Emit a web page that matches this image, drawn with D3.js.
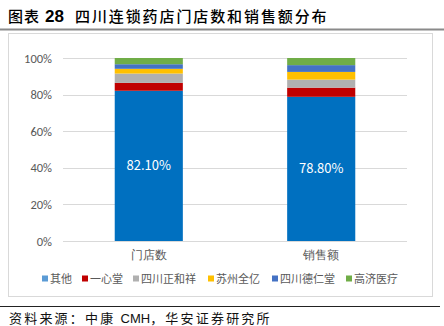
<!DOCTYPE html>
<html>
<head>
<meta charset="utf-8">
<script src="https://cdn.jsdelivr.net/npm/d3@7"></script>
<style>
  html, body { margin: 0; padding: 0; background: #fff; }
  svg { display: block; font-family: "Noto Sans CJK SC", "Noto Sans", sans-serif; }
</style>
</head>
<body>
<svg id="chart" width="444" height="326"></svg>
<script>
// Store count vs. sales share of Sichuan pharmacy chains (percent)
const categories = ["门店数", "销售额"];
const seriesNames = ["其他", "一心堂", "四川正和祥", "苏州全亿", "四川德仁堂", "高济医疗"];
const seriesColors = ["#0070C0", "#C00000", "#B0B0B0", "#FFC000", "#4472C4", "#70AD47"];
const legendColors = ["#5B9BD5", "#C00000", "#B0B0B0", "#FFC000", "#4472C4", "#70AD47"];
const otherValues = [82.1, 78.8];
const yixintangValues = [4.3, 5.0];
const zhenghexiangValues = [5.1, 4.4];
const quanyiValues = [2.6, 4.2];
const derentangValues = [2.5, 3.7];
const gaojiValues = [3.4, 3.9];
const yTicks = [0, 20, 40, 60, 80, 100];

const seriesValues = [otherValues, yixintangValues, zhenghexiangValues, quanyiValues, derentangValues, gaojiValues];

const svg = d3.select("#chart");

// Title and rules
const title = svg.append("text").attr("y", 22).attr("font-size", 15).attr("fill", "#000");
title.append("tspan").attr("x", 8).attr("letter-spacing", 1).attr("font-weight", 500).text("图表");
title.append("tspan").attr("x", 45).attr("font-weight", "bold")
  .attr("font-family", "'Liberation Sans', Arial, sans-serif").attr("font-size", 17).text("28");
title.append("tspan").attr("x", 75).attr("letter-spacing", 1.9).attr("font-weight", 500)
  .text("四川连锁药店门店数和销售额分布");
svg.append("line")
  .attr("x1", 0).attr("x2", 444).attr("y1", 29.5).attr("y2", 29.5)
  .attr("stroke", "#8a8a8a").attr("stroke-width", 2);

// Chart frame
svg.append("rect")
  .attr("x", 8.5).attr("y", 33.5).attr("width", 424).attr("height", 263)
  .attr("fill", "#fff").attr("stroke", "#D9D9D9");

const plot = { left: 63, right: 407, top: 58, bottom: 241 };

const x = d3.scaleBand().domain(categories)
  .range([plot.left, plot.right]).paddingInner(0.605).paddingOuter(0.3);
const y = d3.scaleLinear().domain([0, 100]).range([plot.bottom, plot.top]);

// Gridlines
svg.append("g").selectAll("line").data(yTicks).join("line")
  .attr("x1", plot.left).attr("x2", plot.right)
  .attr("y1", d => Math.round(y(d)) + 0.5).attr("y2", d => Math.round(y(d)) + 0.5)
  .attr("stroke", "#D9D9D9");

// Y axis labels
const yAxis = d3.axisLeft(y).tickValues(yTicks).tickFormat(d => d + "%").tickSize(0).tickPadding(11);
const yg = svg.append("g").attr("transform", `translate(${plot.left},0)`).call(yAxis);
yg.select(".domain").remove();
yg.selectAll("text").attr("font-size", 12.5).attr("fill", "#595959")
  .attr("font-family", "Calibri, Carlito, 'Liberation Sans', sans-serif");

// Stacked data
const rows = categories.map((c, i) => {
  const r = { cat: c };
  seriesNames.forEach((s, j) => r[s] = seriesValues[j][i]);
  return r;
});
const stack = d3.stack().keys(seriesNames)(rows);

svg.append("g").selectAll("g").data(stack).join("g")
  .attr("fill", (d, i) => seriesColors[i])
  .selectAll("rect").data(d => d).join("rect")
  .attr("x", d => x(d.data.cat))
  .attr("width", x.bandwidth())
  .attr("y", d => y(d[1]))
  .attr("height", d => y(d[0]) - y(d[1]));

// Value labels on the "其他" segment
svg.append("g").selectAll("text").data(stack[0]).join("text")
  .attr("x", d => x(d.data.cat) + x.bandwidth() / 2)
  .attr("y", d => y((d[0] + d[1]) / 2))
  .attr("dy", "0.35em")
  .attr("text-anchor", "middle")
  .attr("font-size", 13).attr("fill", "#fff")
  .text(d => (d[1] - d[0]).toFixed(2) + "%");

// X axis baseline and category labels
const xAxis = d3.axisBottom(x).tickSize(0).tickPadding(9);
const xg = svg.append("g").attr("transform", `translate(0,${Math.round(y(0)) + 0.5})`).call(xAxis);
xg.select(".domain").attr("stroke", "#D9D9D9").attr("d", `M${plot.left},0H${plot.right}`);
xg.selectAll("text").attr("font-size", 11.5).attr("fill", "#595959");

// Legend
const legendX = [42, 82, 133, 208, 272, 346];
const lg = svg.append("g").selectAll("g").data(seriesNames).join("g")
  .attr("transform", (d, i) => `translate(${legendX[i]},279)`);
lg.append("rect").attr("x", 0).attr("y", -3.5).attr("width", 6).attr("height", 6)
  .attr("fill", (d, i) => legendColors[i]);
lg.append("text").attr("x", 8).attr("dy", "0.35em")
  .attr("font-size", 11).attr("fill", "#595959").text(d => d);

// Footer
svg.append("line")
  .attr("x1", 0).attr("x2", 440).attr("y1", 306.5).attr("y2", 306.5)
  .attr("stroke", "#222").attr("stroke-width", 1);
const source = svg.append("text").attr("x", 9).attr("y", 323)
  .attr("font-size", 13).attr("fill", "#111");
source.append("tspan").attr("letter-spacing", 2.2).text("资料来源：中康 ");
source.append("tspan").attr("font-family", "'Liberation Sans', Arial, sans-serif").text("CMH");
source.append("tspan").attr("letter-spacing", 2.2).text("，华安证券研究所");
</script>
</body>
</html>
